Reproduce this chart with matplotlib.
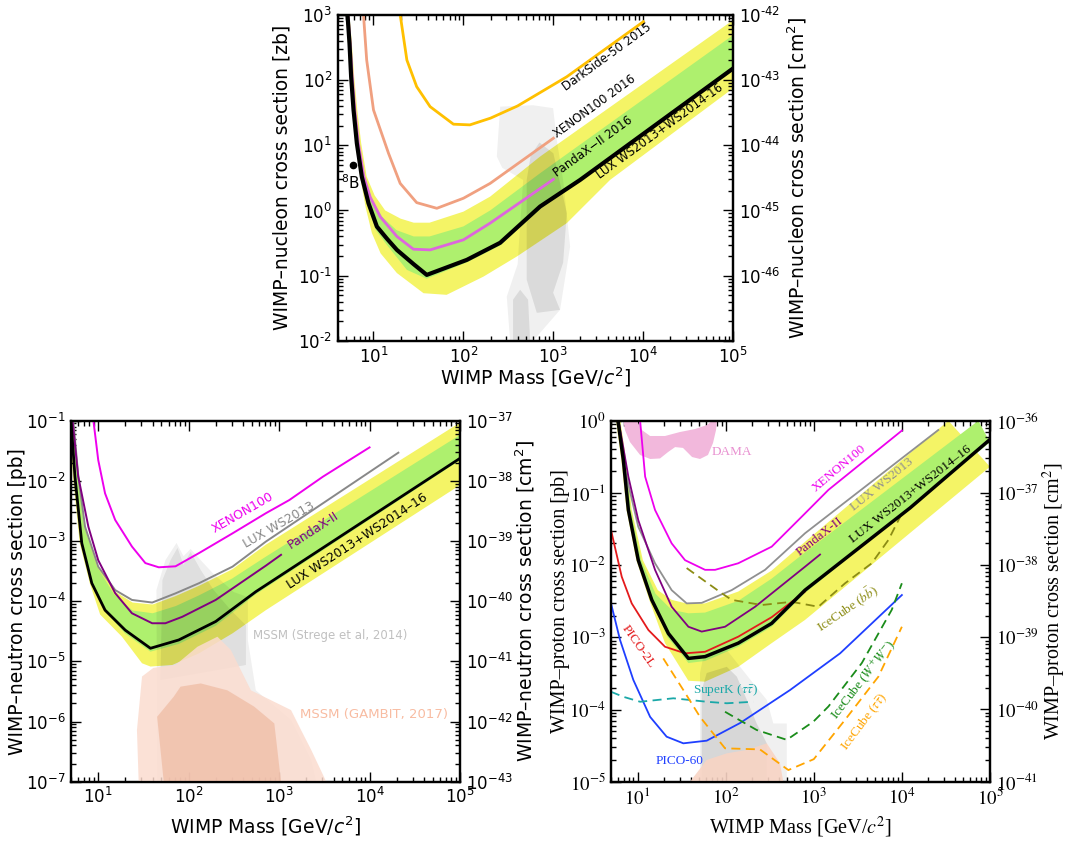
import numpy as np
import matplotlib
matplotlib.use('Agg')
import matplotlib.pyplot as plt
from matplotlib.ticker import LogLocator, NullFormatter

# ================= TOP PANEL (WIMP-nucleon, zb) =================
T_LUX_M = [5.14, 5.41, 5.64, 6.0, 6.53, 7.41, 8.8, 10.9, 14.1, 18.2, 28, 39.1, 109, 256, 711, 1982, 1e5]
T_LUX_S = [1000, 364, 112, 34.7, 10.7, 3.31, 1.29, 0.567, 0.37, 0.249, 0.15, 0.103, 0.175, 0.32, 1.15, 2.94, 151]
T_YL_M = [4.95, 5.2, 5.45, 5.8, 6.3, 7.1, 8.2, 9.6, 12, 18.2, 36, 65, 167, 392, 1409, 4266, 1e5]
T_YL_S = [1000, 364, 112, 34.7, 10.7, 3.31, 1.1, 0.45, 0.22, 0.11, 0.054, 0.051, 0.097, 0.197, 0.64, 2.94, 75]
T_GL_M = [5.05, 5.3, 5.55, 5.9, 6.4, 7.25, 8.6, 10.6, 14, 23.5, 39, 109, 256, 711, 1e5]
T_GL_S = [1000, 364, 112, 34.7, 10.7, 3.31, 1.2, 0.5, 0.3, 0.123, 0.09, 0.16, 0.29, 1.05, 140]
T_GU_M = [5.3, 5.6, 5.9, 6.3, 6.9, 7.9, 9.6, 12.5, 18, 28, 42, 100, 198, 711, 1e5]
T_GU_S = [1000, 364, 112, 34.7, 10.7, 3.31, 1.5, 0.8, 0.5, 0.40, 0.40, 0.57, 1.0, 3.72, 489]
T_YU_M = [5.4, 5.75, 6.1, 6.6, 7.3, 8.4, 10.3, 13.5, 20, 28, 42, 100, 198, 711, 1e5]
T_YU_S = [1000, 364, 112, 34.7, 10.7, 3.31, 1.7, 1.0, 0.75, 0.65, 0.65, 0.96, 1.63, 6.7, 830]
T_PANDAX_M = [5.2, 5.5, 5.8, 6.2, 6.8, 7.8, 9.2, 11.9, 18.2, 27.8, 42.6, 100, 198, 1000]
T_PANDAX_S = [1000, 364, 112, 34.7, 10.7, 3.31, 1.6, 0.8, 0.40, 0.255, 0.249, 0.355, 0.64, 3.0]
T_XE_M = [7.74, 8.4, 10, 14.7, 19.8, 30.2, 50.6, 100, 198, 1000]
T_XE_S = [1000, 202, 34.7, 7.5, 2.6, 1.32, 1.08, 1.54, 2.6, 12.8]
T_DS_M = [19.8, 23.5, 30.2, 42.6, 77.4, 118, 200, 400, 1409, 1e4]
T_DS_S = [1000, 202, 79, 39, 21, 20.5, 26, 40, 112, 781]
T_MSSM_LIGHT_M = [235, 256, 594, 993, 1091, 1282, 1535, 1186, 594, 330, 303, 400, 461, 270]
T_MSSM_LIGHT_S = [6.7, 39, 41, 37, 12, 2.94, 0.28, 0.030, 0.01, 0.01, 0.048, 0.15, 2.94, 4.5]
T_MSSM_DARK_M = [505, 560, 700, 1000, 1409, 1282, 993, 1186, 654, 505]
T_MSSM_DARK_S = [2.94, 7.0, 11.0, 7.5, 0.91, 0.158, 0.055, 0.030, 0.027, 0.087]
T_MSSM_DARK2_M = [356, 427, 523, 551, 356]
T_MSSM_DARK2_S = [0.043, 0.061, 0.043, 0.01, 0.01]
T_B8 = (5.85, 4.9)

# ================= BOTTOM LEFT (WIMP-neutron, pb) =================
N_LUX_M = [5.0, 5.53, 6.58, 8.49, 11.9, 19.9, 37.8, 77.8, 199, 553, 1e5]
N_LUX_S = [0.1, 0.0117, 9.2e-4, 1.99e-4, 7.1e-5, 3.3e-5, 1.65e-5, 2.27e-5, 4.6e-5, 1.44e-4, 0.0237]
N_YL_M = [4.75, 5.25, 6.25, 8.07, 10.5, 18.3, 30.5, 37.8, 65.8, 130, 305, 714, 1e5]
N_YL_S = [0.1, 0.0117, 9.2e-4, 1.99e-4, 6e-5, 2.57e-5, 9.3e-6, 8.2e-6, 8.7e-6, 1.36e-5, 2.92e-5, 7.1e-5, 8.5e-3]
N_GL_M = [4.9, 5.42, 6.45, 8.3, 11.6, 19.9, 37.8, 77.8, 199, 553, 1e5]
N_GL_S = [0.1, 0.0117, 9.2e-4, 1.99e-4, 7.1e-5, 2.9e-5, 1.45e-5, 1.95e-5, 3.9e-5, 1.3e-4, 0.022]
N_GU_M = [5.25, 5.95, 7.0, 9.7, 15, 24, 40, 72, 130, 305, 714, 1e5]
N_GU_S = [0.1, 0.0117, 1.73e-3, 3.75e-4, 1.3e-4, 7e-5, 6.3e-5, 8.3e-5, 1.25e-4, 2.4e-4, 5.5e-4, 0.058]
N_YU_M = [5.3, 6.0, 7.1, 9.9, 15.3, 24, 40, 72, 130, 305, 714, 1e5]
N_YU_S = [0.1, 0.0117, 1.73e-3, 3.75e-4, 1.45e-4, 9.5e-5, 8.8e-5, 1.22e-4, 1.8e-4, 3.4e-4, 8.7e-4, 0.093]
N_WS13_M = [5.3, 6.03, 7.15, 10, 15.4, 23.6, 39.5, 71.5, 130, 305, 714, 20800]
N_WS13_S = [0.1, 0.0117, 1.73e-3, 3.75e-4, 1.53e-4, 1.05e-4, 9.5e-5, 1.35e-4, 1.99e-4, 3.75e-4, 9.8e-4, 0.0294]
N_PANDAX_M = [5.2, 6.0, 7.78, 10, 15.4, 23.6, 39.5, 55.3, 84.9, 199, 714, 1050]
N_PANDAX_S = [0.1, 0.012, 1.73e-3, 4.8e-4, 1.36e-4, 6.3e-5, 4.3e-5, 4.3e-5, 5.5e-5, 1.05e-4, 3.9e-4, 5.9e-4]
N_XE_M = [8.85, 10, 11.9, 15.4, 23.6, 33.2, 46.7, 71.5, 130, 305, 714, 1297, 3040, 1e4]
N_XE_S = [0.1, 0.0222, 6.2e-3, 2.24e-3, 8.1e-4, 4.3e-4, 3.66e-4, 3.8e-4, 6.3e-4, 1.34e-3, 2.9e-3, 4.8e-3, 0.0117, 0.036]
N_STREGE_LIGHT_M = [45.1, 44, 55.3, 73.4, 87.8, 105, 136, 184, 315, 451, 451, 553, 1355, 2259, 2570]
N_STREGE_LIGHT_S = [1e-7, 1.53e-4, 4.8e-4, 9.3e-4, 5.6e-4, 7.4e-4, 4.8e-4, 2.94e-4, 1.42e-4, 1.17e-4, 2.27e-5, 3.3e-6, 1.06e-6, 2.3e-7, 1e-7]
N_STREGE_DARK_M = [51.3, 63, 75.3, 87.8, 105, 136, 189, 292, 429, 429, 48.7]
N_STREGE_DARK_S = [2.25e-4, 4.8e-4, 7.7e-4, 4.0e-4, 6.6e-4, 3.3e-4, 1.53e-4, 7.1e-5, 4.0e-5, 8.7e-6, 4.9e-6]
N_GAMBIT_LIGHT_M = [28, 26.8, 30.5, 40.7, 71.5, 125, 208, 292, 488, 1355, 1750, 2259, 3319]
N_GAMBIT_LIGHT_S = [1e-7, 7.2e-7, 5.6e-6, 7.8e-6, 8.7e-6, 1.75e-5, 2.57e-5, 1.55e-5, 3.3e-6, 1.55e-6, 7.2e-7, 3.4e-7, 1e-7]
N_GAMBIT_DARK_M = [53, 44.8, 68.5, 81.3, 136, 268, 530, 885, 1050]
N_GAMBIT_DARK_S = [1e-7, 1.2e-6, 2.6e-6, 3.8e-6, 4.3e-6, 3.3e-6, 1.77e-6, 9.3e-7, 1e-7]

# ================= BOTTOM RIGHT (WIMP-proton, pb) =================
P_LUX_M = [6.0, 6.9, 7.87, 10.2, 14.5, 22.4, 37.8, 58.4, 139, 333, 796, 12400, 1e5]
P_LUX_S = [1.0, 0.286, 0.058, 0.0117, 3.3e-3, 1.13e-3, 5.1e-4, 5.4e-4, 8.3e-4, 1.56e-3, 4.5e-3, 0.062, 0.55]
P_YL_M = [5.7, 6.55, 7.5, 9.7, 13.6, 20.5, 37.8, 58.4, 139, 333, 796, 1e5]
P_YL_S = [1.0, 0.286, 0.058, 0.0117, 3.3e-3, 8.3e-4, 2.5e-4, 2.43e-4, 3.9e-4, 8.3e-4, 1.74e-3, 0.23]
P_GL_M = [5.85, 6.75, 7.7, 10.0, 14.2, 22, 37.8, 58.4, 139, 333, 796, 1e5]
P_GL_S = [1.0, 0.286, 0.058, 0.0117, 3.3e-3, 1.0e-3, 4.4e-4, 4.7e-4, 7.4e-4, 1.4e-3, 4.1e-3, 0.5]
P_GU_M = [6.3, 7.3, 8.4, 11, 16, 24.4, 37.8, 58.4, 139, 333, 796, 73800]
P_GU_S = [1.0, 0.286, 0.058, 0.0117, 4e-3, 2.4e-3, 2.15e-3, 2.2e-3, 3.2e-3, 6.5e-3, 0.015, 1.0]
P_YU_M = [6.4, 7.4, 8.6, 11.5, 17, 24.4, 37.8, 58.4, 139, 333, 796, 33700]
P_YU_S = [1.0, 0.286, 0.058, 0.0117, 4.5e-3, 3.3e-3, 2.9e-3, 2.95e-3, 4.3e-3, 8.4e-3, 0.021, 1.0]
P_WS13_M = [6.1, 7.2, 10.2, 15.8, 24.4, 36.1, 53.5, 117, 280, 796, 25900]
P_WS13_S = [1.0, 0.207, 0.034, 0.0106, 4.5e-3, 2.95e-3, 3.0e-3, 4.5e-3, 8.6e-3, 0.0276, 0.743]
P_PANDAX_M = [6.1, 7.87, 10.2, 15.8, 24.4, 37.8, 53.5, 98.4, 216, 796, 1178]
P_PANDAX_S = [1.0, 0.168, 0.042, 8.6e-3, 2.65e-3, 1.4e-3, 1.2e-3, 1.4e-3, 2.65e-3, 9.5e-3, 0.014]
P_XE_M = [10.7, 12.2, 15.8, 24.4, 34.6, 58.4, 75.9, 139, 333, 796, 1466, 1e4]
P_XE_S = [1.0, 0.168, 0.058, 0.02, 0.0117, 8.6e-3, 8.6e-3, 0.0106, 0.018, 0.052, 0.11, 0.73]
P_PICO2L_M = [5.0, 6.62, 8.59, 13.3, 20.5, 34.6, 58.4, 139, 333, 796]
P_PICO2L_S = [0.0306, 6.9e-3, 2.95e-3, 1.26e-3, 7.4e-4, 6.0e-4, 6.3e-4, 1.02e-3, 1.9e-3, 4.3e-3]
P_PICO60_M = [5.0, 6.33, 8.96, 13.9, 21.4, 33.1, 61, 146, 538, 1991, 1e4]
P_PICO60_S = [2.95e-3, 9.2e-4, 2.57e-4, 7.9e-5, 4.2e-5, 3.4e-5, 3.7e-5, 6.5e-5, 1.86e-4, 6.0e-4, 3.85e-3]
P_SUPERK_M = [5.0, 6.9, 10.7, 25.5, 61, 103, 206]
P_SUPERK_S = [1.76e-4, 1.5e-4, 1.28e-4, 1.43e-4, 1.28e-4, 1.22e-4, 1.28e-4]
P_ICBB_M = [36.1, 90.4, 117, 257, 562, 1127, 2265, 4550, 7030, 1e4]
P_ICBB_S = [9.1e-3, 4.07e-3, 3.3e-3, 2.8e-3, 3.1e-3, 2.65e-3, 5.6e-3, 0.0106, 0.0223, 0.052]
P_ICWW_M = [98.4, 225, 494, 991, 1466, 3510, 7670, 1e4]
P_ICWW_S = [9.3e-5, 5.2e-5, 3.8e-5, 6.8e-5, 1.1e-4, 4.4e-4, 2.4e-3, 5.6e-3]
P_ICTT_M = [19.6, 33.1, 51.2, 98.4, 245, 515, 1000, 2265, 5410, 1e4]
P_ICTT_S = [5.1e-4, 1.86e-4, 7.9e-5, 2.9e-5, 2.8e-5, 1.45e-5, 2.05e-5, 7.2e-5, 2.85e-4, 1.4e-3]
P_DAMA_LO_M = [6.9, 7.2, 8.2, 10.7, 13.9, 18, 22.2, 26.7, 32.8, 41.6, 51.2, 63, 71.9, 77.8, 79.8]
P_DAMA_LO_S = [1.0, 0.743, 0.507, 0.335, 0.295, 0.30, 0.368, 0.431, 0.42, 0.314, 0.295, 0.335, 0.491, 0.743, 1.0]
P_DAMA_HI_M = [9.8, 11.2, 13.9, 20.5, 30.3, 45, 61.5, 70.2]
P_DAMA_HI_S = [1.0, 0.743, 0.614, 0.614, 0.697, 0.767, 0.872, 1.0]
P_MSSM_LIGHT_M = [51.2, 51.2, 55.8, 103, 146, 206, 293, 348, 494, 494]
P_MSSM_LIGHT_S = [1e-5, 3.2e-4, 5.4e-4, 6.7e-4, 3.9e-4, 2.3e-4, 1.36e-4, 6.4e-5, 6.4e-5, 1e-5]
P_MSSM_DARK_M = [53.5, 53.5, 61, 103, 134, 174, 225, 293, 293]
P_MSSM_DARK_S = [1e-5, 1.86e-4, 3.2e-4, 3.9e-4, 2.85e-4, 1.36e-4, 6.4e-5, 3.4e-5, 1e-5]
P_GAMBIT_M = [39.4, 61, 103, 174, 293, 414, 451]
P_GAMBIT_S = [1e-5, 2.0e-5, 2.47e-5, 2.75e-5, 3.4e-5, 1.8e-5, 1e-5]

# ================= figure =================
W, H = 1075, 843
fig = plt.figure(figsize=(W / 100, H / 100), dpi=100)

def frac(x0, y0, x1, y1):
    return [x0 / W, 1 - y1 / H, (x1 - x0) / W, (y1 - y0) / H]

ax_t = fig.add_axes(frac(337.7, 14.7, 733.3, 341.0))
ax_n = fig.add_axes(frac(71.0, 420.7, 460.0, 781.7))
ax_p = fig.add_axes(frac(611.0, 420.7, 990.0, 781.7))

YELLOW = '#f4f466'
GREEN = '#aef06e'

HY = '\u2010'

def fmt_hyph(k):
    return r'$10^{%s}$' % (str(k) if k >= 0 else HY + str(-k))

def fmt_minus(k):
    return r'$10^{%d}$' % k


def setup(ax, xlim, ylim, conv, yexp, rexp, rshow, fmt, tfs, lfs, family, mathfam,
          ylab, rlab, xlab, ylx, rlx, xly):
    tkw = dict(fontsize=tfs, fontfamily=family, math_fontfamily=mathfam)
    ax.set_xscale('log'); ax.set_yscale('log')
    ax.set_xlim(*xlim); ax.set_ylim(*ylim)
    ax.set_xticks([10.0 ** k for k in range(1, 6)], [fmt(k) for k in range(1, 6)], **tkw)
    ax.set_yticks([10.0 ** k for k in yexp], [fmt(k) for k in yexp], **tkw)
    for a in (ax.xaxis, ax.yaxis):
        a.set_minor_locator(LogLocator(base=10, subs=np.arange(2, 10), numticks=40))
        a.set_minor_formatter(NullFormatter())
    ax.tick_params(which='both', direction='in', top=True, right=False, width=1)
    ax.tick_params(which='major', length=7, pad=4)
    ax.tick_params(which='minor', length=3.5)
    ax2 = ax.twinx()
    ax2.set_yscale('log')
    ax2.set_ylim(ylim[0] * conv, ylim[1] * conv)
    ax2.set_yticks([10.0 ** k for k in rexp],
                   [fmt(k) if k in rshow else '' for k in rexp], **tkw)
    ax2.yaxis.set_minor_locator(LogLocator(base=10, subs=np.arange(2, 10), numticks=40))
    ax2.yaxis.set_minor_formatter(NullFormatter())
    ax2.tick_params(which='both', direction='in', width=1)
    ax2.tick_params(which='major', length=7, pad=4)
    ax2.tick_params(which='minor', length=3.5)
    lkw = dict(fontsize=lfs, fontfamily=family, math_fontfamily=mathfam)
    ax.set_ylabel(ylab, **lkw)
    ax2.set_ylabel(rlab, **lkw)
    ax.set_xlabel(xlab, **lkw)
    ax.yaxis.set_label_coords(ylx, 0.5)
    ax2.yaxis.set_label_coords(rlx, 0.5)
    ax.xaxis.set_label_coords(0.5, xly)
    for a in (ax, ax2):
        for s in a.spines.values():
            s.set_linewidth(1.6)
    return ax2


def band(ax, m1, s1, m2, s2, color, z):
    xs = list(m1) + list(m2)[::-1]
    ys = list(s1) + list(s2)[::-1]
    ax.fill(xs, ys, color=color, lw=0, zorder=z)

# ---------------- top ----------------
ax = ax_t
band(ax, T_YL_M, T_YL_S, T_YU_M, T_YU_S, YELLOW, 1)
band(ax, T_GL_M, T_GL_S, T_GU_M, T_GU_S, GREEN, 2)
ax.fill(T_MSSM_LIGHT_M, T_MSSM_LIGHT_S, color='k', alpha=0.06, lw=0, zorder=3)
ax.fill(T_MSSM_DARK_M, T_MSSM_DARK_S, color='k', alpha=0.09, lw=0, zorder=3)
ax.fill(T_MSSM_DARK2_M, T_MSSM_DARK2_S, color='k', alpha=0.09, lw=0, zorder=3)
ax.plot(T_DS_M, T_DS_S, color='#ffc000', lw=2, zorder=5)
ax.plot(T_XE_M, T_XE_S, color='#f0a080', lw=2, zorder=5)
ax.plot(T_PANDAX_M, T_PANDAX_S, color='#dd66dd', lw=2, zorder=5)
ax.plot(T_LUX_M, T_LUX_S, color='k', lw=3, zorder=6)
ax.plot([T_B8[0]], [T_B8[1]], 'o', color='k', ms=4.5, zorder=7)
ax.text(5.6, 3.7, r'$^8$B', fontsize=11, ha='center', va='top', zorder=7)
tk = dict(fontsize=8.5, rotation=36, ha='center', va='center', rotation_mode='anchor', zorder=7)
ax.text(3981, 227, 'DarkSide-50 2015', **tk)
ax.text(2904, 39, 'XENON100 2016', **tk)
ax.text(2782, 9.5, 'PandaX\u2212II 2016', **tk)
ax.text(15060, 16.2, 'LUX WS2013+WS2014-16', **tk)
setup(ax, (4, 1e5), (1e-2, 1e3), 1e-45, range(-2, 4), range(-47, -41), range(-46, -41),
      fmt_hyph, 12, 13.5, 'DejaVu Sans', 'dejavusans',
      'WIMP\u2013nucleon cross section [zb]', 'WIMP\u2013nucleon cross section [cm$^2$]',
      'WIMP Mass [GeV/$c^2$]', -0.118, 1.132, -0.075)

# ---------------- bottom left ----------------
ax = ax_n
band(ax, N_YL_M, N_YL_S, N_YU_M, N_YU_S, YELLOW, 1)
band(ax, N_GL_M, N_GL_S, N_GU_M, N_GU_S, GREEN, 2)
ax.fill(N_STREGE_LIGHT_M, N_STREGE_LIGHT_S, color='k', alpha=0.06, lw=0, zorder=3)
ax.fill(N_STREGE_DARK_M, N_STREGE_DARK_S, color='k', alpha=0.07, lw=0, zorder=3)
ax.fill(N_GAMBIT_LIGHT_M, N_GAMBIT_LIGHT_S, color='#fbdccf', alpha=0.85, lw=0, zorder=3.5)
ax.fill(N_GAMBIT_DARK_M, N_GAMBIT_DARK_S, color='#f0bfa8', alpha=0.8, lw=0, zorder=3.6)
ax.plot(N_XE_M, N_XE_S, color='#ee00ee', lw=1.4, zorder=5)
ax.plot(N_WS13_M, N_WS13_S, color='#888888', lw=1.4, zorder=5)
ax.plot(N_PANDAX_M, N_PANDAX_S, color='#800080', lw=1.4, zorder=5)
ax.plot(N_LUX_M, N_LUX_S, color='k', lw=2, zorder=6)
tk = dict(fontsize=9, ha='center', va='center', rotation_mode='anchor', zorder=7)
ax.text(394, 2.9e-3, 'XENON100', color='#ee00ee', rotation=30, **tk)
ax.text(1005, 1.85e-3, 'LUX WS2013', color='#888888', rotation=30, **tk)
ax.text(2361, 1.49e-3, 'PandaX-II', color='#800080', rotation=33, **tk)
ax.text(7278, 9.8e-4, 'LUX WS2013+WS2014\u201316', color='k', rotation=33, **tk)
ax.text(3680, 2.74e-5, 'MSSM (Strege et al, 2014)', color='#c0c0c0', fontsize=8.5,
        ha='center', va='center', zorder=7)
ax.text(11200, 1.33e-6, 'MSSM (GAMBIT, 2017)', color='#f8bca2', fontsize=9.5,
        ha='center', va='center', zorder=7)
setup(ax, (5, 1e5), (1e-7, 1e-1), 1e-36, range(-7, 0), range(-43, -36), range(-43, -36),
      fmt_minus, 12, 13.5, 'DejaVu Sans', 'dejavusans',
      'WIMP\u2013neutron cross section [pb]', 'WIMP\u2013neutron cross section [cm$^2$]',
      'WIMP Mass [GeV/$c^2$]', -0.113, 1.138, -0.092)

# ---------------- bottom right ----------------
ax = ax_p
band(ax, P_YL_M, P_YL_S, P_YU_M, P_YU_S, YELLOW, 1)
band(ax, P_GL_M, P_GL_S, P_GU_M, P_GU_S, GREEN, 2)
band(ax, P_DAMA_LO_M, P_DAMA_LO_S, P_DAMA_HI_M, P_DAMA_HI_S, '#f2b8dc', 2)
ax.fill(P_MSSM_LIGHT_M, P_MSSM_LIGHT_S, color='k', alpha=0.06, lw=0, zorder=3)
ax.fill(P_MSSM_DARK_M, P_MSSM_DARK_S, color='k', alpha=0.10, lw=0, zorder=3)
ax.fill(P_GAMBIT_M, P_GAMBIT_S, color='#f8d4c4', alpha=0.9, lw=0, zorder=3.5)
ax.plot(P_XE_M, P_XE_S, color='#ee00ee', lw=1.3, zorder=5)
ax.plot(P_WS13_M, P_WS13_S, color='#909090', lw=1.3, zorder=5)
ax.plot(P_PANDAX_M, P_PANDAX_S, color='#800080', lw=1.3, zorder=5)
ax.plot(P_PICO2L_M, P_PICO2L_S, color='#e41a1c', lw=1.3, zorder=5)
ax.plot(P_PICO60_M, P_PICO60_S, color='#1f3fff', lw=1.3, zorder=5)
ax.plot(P_SUPERK_M, P_SUPERK_S, color='#1aa8a8', lw=1.3, ls=(0, (5, 3)), zorder=5)
ax.plot(P_ICBB_M, P_ICBB_S, color='#8c8c14', lw=1.3, ls=(0, (5, 3)), zorder=5)
ax.plot(P_ICWW_M, P_ICWW_S, color='#1a8c1a', lw=1.3, ls=(0, (5, 3)), zorder=5)
ax.plot(P_ICTT_M, P_ICTT_S, color='#ffa500', lw=1.3, ls=(0, (5, 3)), zorder=5)
ax.plot(P_LUX_M, P_LUX_S, color='k', lw=2.5, zorder=6)
sk = dict(fontsize=9.5, ha='center', va='center', rotation_mode='anchor', zorder=7,
          fontfamily='Liberation Serif', math_fontfamily='stix')
ax.text(117, 0.372, 'DAMA', color='#e890d0', **sk)
ax.text(1936, 0.219, 'XENON100', color='#ee00ee', rotation=40, **sk)
ax.text(6010, 0.129, 'LUX WS2013', color='#909090', rotation=39, **sk)
ax.text(1178, 0.0247, 'PandaX-II', color='#800080', rotation=38, **sk)
ax.text(12400, 0.0966, 'LUX WS2013+WS2014\u201316', color='k', rotation=38, **sk)
ax.text(10.2, 7.4e-4, 'PICO-2L', color='#e41a1c', rotation=-55, **sk)
ax.text(30.3, 1.95e-5, 'PICO-60', color='#1f3fff', **sk)
ax.text(98.4, 1.86e-4, r'SuperK ($\tau\bar{\tau}$)', color='#1aa8a8', **sk)
ax.text(2405, 2.5e-3, r'IceCube ($b\bar{b}$)', color='#8c8c14', rotation=34, **sk)
ax.text(3600, 2.6e-4, r'IceCube ($W^{+}W^{-}$)', color='#1a8c1a', rotation=52, **sk)
ax.text(3725, 6.8e-5, r'IceCube ($\tau\bar{\tau}$)', color='#ffa500', rotation=53, **sk)
setup(ax, (5, 1e5), (1e-5, 1), 1e-36, range(-5, 1), range(-41, -35), range(-41, -35),
      fmt_minus, 13.5, 14.5, 'Liberation Serif', 'stix',
      'WIMP\u2013proton cross section [pb]', 'WIMP\u2013proton cross section [cm$^2$]',
      'WIMP Mass [GeV/$c^2$]', -0.107, 1.135, -0.092)

fig.savefig('out.png', dpi=100)
